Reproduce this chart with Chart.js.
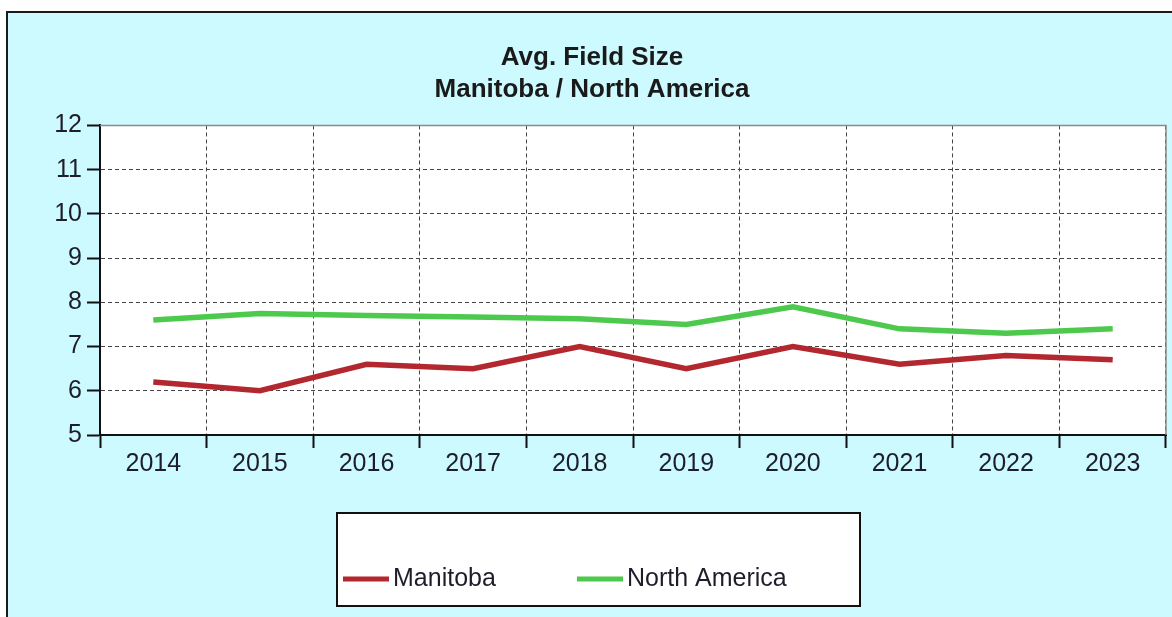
<!DOCTYPE html>
<html>
<head>
  <meta charset="UTF-8">
  <title>Avg. Field Size</title>
  <script src="https://cdn.jsdelivr.net/npm/chart.js"></script>
  <style>
    html, body {
      margin: 0;
      padding: 0;
      background: #fff;
      overflow: hidden;
    }
    #frame {
      position: absolute;
      left: 6px;
      top: 11px;
      width: 1200px;
      height: 700px;
      border: 2px solid #1a1a1a;
      background: #ccfaff;
    }
    #chart {
      position: absolute;
      left: 0;
      top: 0;
    }
  </style>
</head>
<body>
  <div id="frame"></div>
  <canvas id="chart" width="1172" height="617"></canvas>

  <script>
    const years = ["2014", "2015", "2016", "2017", "2018", "2019", "2020", "2021", "2022", "2023"];
    const manitoba = [6.2, 6.0, 6.6, 6.5, 7.0, 6.5, 7.0, 6.6, 6.8, 6.7];
    const northAmerica = [7.6, 7.75, 7.7, 7.67, 7.63, 7.5, 7.9, 7.4, 7.3, 7.4];
    const titleLines = ["Avg. Field Size", "Manitoba / North America"];
    const yMin = 5, yMax = 12;

    const FONT = "'Liberation Sans', Arial, sans-serif";

    // white plot area + grey frame round it
    const plotBox = {
      id: 'plotBox',
      beforeDraw(chart) {
        const {ctx, chartArea: a} = chart;
        ctx.save();
        ctx.fillStyle = '#fff';
        ctx.fillRect(a.left, a.top, a.right - a.left, a.bottom - a.top);
        ctx.restore();
      },
      afterDatasetsDraw(chart) {
        const {ctx, chartArea: a} = chart;
        ctx.save();
        ctx.strokeStyle = '#8a8a8a';
        ctx.lineWidth = 1.5;
        ctx.beginPath();
        ctx.moveTo(a.left, a.top);
        ctx.lineTo(a.right, a.top);
        ctx.lineTo(a.right, a.bottom);
        ctx.stroke();
        ctx.restore();
      }
    };

    // boxed legend under the axis
    const boxLegend = {
      id: 'boxLegend',
      afterDraw(chart) {
        const ctx = chart.ctx;
        const box = {x: 337, y: 513, w: 523, h: 93};
        ctx.save();
        ctx.fillStyle = '#fff';
        ctx.fillRect(box.x, box.y, box.w, box.h);
        ctx.strokeStyle = '#111';
        ctx.lineWidth = 2;
        ctx.strokeRect(box.x, box.y, box.w, box.h);
        ctx.font = '25px ' + FONT;
        ctx.textBaseline = 'middle';
        const slots = [343, 577];
        chart.data.datasets.forEach((ds, i) => {
          const x = slots[i], y = 579;
          ctx.strokeStyle = ds.borderColor;
          ctx.lineWidth = 5;
          ctx.beginPath();
          ctx.moveTo(x, y);
          ctx.lineTo(x + 46, y);
          ctx.stroke();
          ctx.fillStyle = '#1e1e2a';
          ctx.fillText(ds.label, x + 50, y);
        });
        ctx.restore();
      }
    };

    new Chart(document.getElementById('chart'), {
      type: 'line',
      data: {
        labels: years,
        datasets: [
          {
            label: 'Manitoba',
            data: manitoba,
            borderColor: '#b3282e',
            borderWidth: 5.5,
            pointRadius: 0,
            tension: 0
          },
          {
            label: 'North America',
            data: northAmerica,
            borderColor: '#4dca4d',
            borderWidth: 5.5,
            pointRadius: 0,
            tension: 0
          }
        ]
      },
      options: {
        responsive: false,
        animation: false,
        devicePixelRatio: 1,
        layout: {
          padding: {left: 18, right: 6, top: 42, bottom: 0}
        },
        plugins: {
          legend: {display: false},
          tooltip: {enabled: false},
          title: {
            display: true,
            text: titleLines,
            color: '#1a1a1a',
            font: {family: FONT, size: 26, weight: 'bold', lineHeight: 1.22},
            padding: {top: 0, bottom: 20}
          }
        },
        scales: {
          x: {
            type: 'category',
            offset: true,
            grid: {
              offset: true,
              color: '#444',
              lineWidth: 1,
              tickLength: 13,
              tickColor: '#111',
              tickWidth: 2
            },
            border: {color: '#111', width: 2, dash: [4, 3]},
            ticks: {
              color: '#1e1e2a',
              font: {family: FONT, size: 25},
              padding: 1,
              maxRotation: 0,
              autoSkip: false
            },
            afterFit(s) { s.height = 182; }
          },
          y: {
            min: yMin,
            max: yMax,
            grid: {
              color: '#444',
              lineWidth: 1,
              tickLength: 13,
              tickColor: '#111',
              tickWidth: 2
            },
            border: {color: '#111', width: 2, dash: [4, 3]},
            ticks: {
              stepSize: 1,
              color: '#1e1e2a',
              font: {family: FONT, size: 25},
              padding: 5
            },
            afterFit(s) { s.width = 82; }
          }
        }
      },
      plugins: [plotBox, boxLegend]
    });
  </script>
</body>
</html>
